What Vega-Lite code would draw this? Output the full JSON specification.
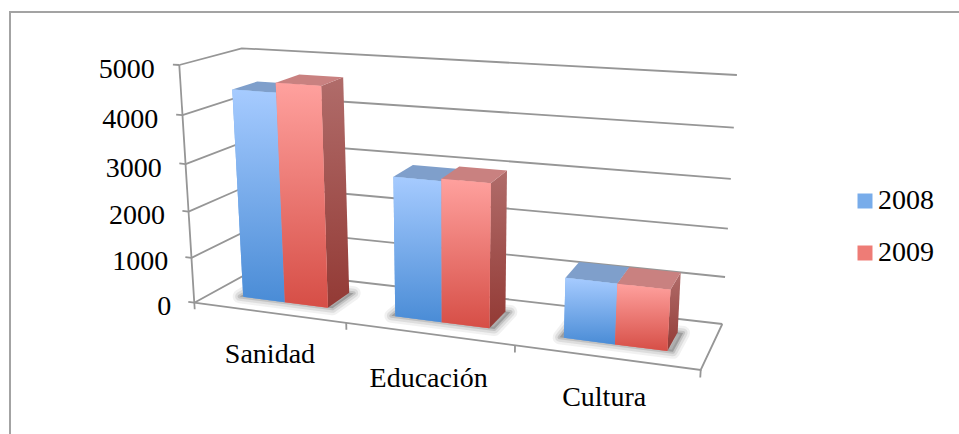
{
  "$schema": "https://vega.github.io/schema/vega-lite/v6.json",
  "width": 952,
  "height": 424,
  "padding": {"left": 10, "top": 12, "right": 0, "bottom": 0},
  "autosize": {"type": "none"},
  "background": "white",
  "config": {"view": {"stroke": "#a3a3a3", "strokeWidth": 2}, "axis": {"disable": true}},
  "data": {"values": [
    {"elemento": "barra", "categoria": "Sanidad", "anio": 2008, "valor": 4450},
    {"elemento": "barra", "categoria": "Sanidad", "anio": 2009, "valor": 4650},
    {"elemento": "barra", "categoria": "Educación", "anio": 2008, "valor": 2950},
    {"elemento": "barra", "categoria": "Educación", "anio": 2009, "valor": 3000},
    {"elemento": "barra", "categoria": "Cultura", "anio": 2008, "valor": 1250},
    {"elemento": "barra", "categoria": "Cultura", "anio": 2009, "valor": 1250},
    {"elemento": "escala", "valor": 0},
    {"elemento": "escala", "valor": 1000},
    {"elemento": "escala", "valor": 2000},
    {"elemento": "escala", "valor": 3000},
    {"elemento": "escala", "valor": 4000},
    {"elemento": "escala", "valor": 5000},
    {"elemento": "categoria", "categoria": "Sanidad"},
    {"elemento": "categoria", "categoria": "Educación"},
    {"elemento": "categoria", "categoria": "Cultura"},
    {"elemento": "suelo"}
  ]},
  "transform": [
    {"calculate": "indexof(['Sanidad','Educación','Cultura'],datum.categoria)", "as": "c"},
    {"calculate": "datum.anio==2009?1:0", "as": "s"},
    {"calculate": "(datum.c+0.5)/3+(datum.s-1)*0.095+0.001", "as": "tL"},
    {"calculate": "datum.tL+0.095", "as": "tR"},
    {"calculate": "datum.valor/5000", "as": "h"},
    {"calculate": "datum.elemento=='barra'?[{cara:'frente',i:0,t:datum.tL,z:0.3,v:0},{cara:'frente',i:1,t:datum.tR,z:0.3,v:0},{cara:'frente',i:2,t:datum.tR,z:0.3,v:datum.h},{cara:'frente',i:3,t:datum.tL,z:0.3,v:datum.h},{cara:'lado',i:0,t:datum.tR,z:0.3,v:0},{cara:'lado',i:1,t:datum.tR,z:0.72,v:0},{cara:'lado',i:2,t:datum.tR,z:0.72,v:datum.h},{cara:'lado',i:3,t:datum.tR,z:0.3,v:datum.h},{cara:'tapa',i:0,t:datum.tL,z:0.3,v:datum.h},{cara:'tapa',i:1,t:datum.tR,z:0.3,v:datum.h},{cara:'tapa',i:2,t:datum.tR,z:0.72,v:datum.h},{cara:'tapa',i:3,t:datum.tL,z:0.72,v:datum.h},{cara:'sombra',i:0,t:datum.tL-0.008,z:0.3,v:0},{cara:'sombra',i:1,t:datum.tL+0.2,z:0.3,v:0},{cara:'sombra',i:2,t:datum.tL+0.2,z:0.72,v:0},{cara:'sombra',i:3,t:datum.tL-0.008,z:0.72,v:0}]:datum.elemento=='escala'?[{cara:'trazo',g:'rejilla',i:0,t:0,z:0,v:datum.h},{cara:'trazo',g:'rejilla',i:1,t:0,z:1,v:datum.h},{cara:'trazo',g:'rejilla',i:2,t:1,z:1,v:datum.h},{cara:'trazo',g:'marca',i:0,t:-0.014,z:0,v:datum.h},{cara:'trazo',g:'marca',i:1,t:0,z:0,v:datum.h},{cara:'etiquetaY',i:0,t:-0.054,z:0,v:datum.h}]:datum.elemento=='categoria'?[{cara:'trazo',g:'marca',i:0,t:datum.c/3,z:0,v:0},{cara:'trazo',g:'marca',i:1,t:datum.c/3,z:0,v:-0.03},{cara:'etiquetaX',i:0,t:(datum.c+0.5)/3,z:0,v:-[0.19,0.195,0.17][datum.c]}]:[{cara:'trazo',g:'borde',i:0,t:0,z:0,v:0},{cara:'trazo',g:'borde',i:1,t:1,z:0,v:0},{cara:'trazo',g:'borde',i:2,t:1,z:1,v:0},{cara:'trazo',g:'eje',i:0,t:0,z:0,v:0},{cara:'trazo',g:'eje',i:1,t:0,z:0,v:1},{cara:'trazo',g:'fin',i:0,t:1,z:0,v:0},{cara:'trazo',g:'fin',i:1,t:1,z:0,v:-0.03}]", "as": "puntos"},
    {"flatten": ["puntos"]},
    {"calculate": "datum.puntos.cara", "as": "cara"},
    {"calculate": "datum.puntos.i", "as": "i"},
    {"calculate": "datum.elemento+'|'+datum.categoria+'|'+datum.anio+'|'+datum.valor+'|'+datum.puntos.g", "as": "grupo"},
    {"calculate": "0.85*datum.puntos.t+0.15*datum.puntos.t*datum.puntos.t", "as": "u"},
    {"calculate": "0.93*datum.puntos.v+0.07*datum.puntos.v*datum.puntos.v", "as": "w"},
    {"calculate": "datum.puntos.z", "as": "z"},
    {"calculate": "(1-datum.w)*((1-datum.z)*((1-datum.u)*194.3+datum.u*700.7)+datum.z*((1-datum.u)*254+datum.u*722.3))+datum.w*((1-datum.z)*((1-datum.u)*179.3+datum.u*716.7)+datum.z*((1-datum.u)*241.7+datum.u*736.9))", "as": "px"},
    {"calculate": "(1-datum.w)*((1-datum.z)*((1-datum.u)*302.7+datum.u*370)+datum.z*((1-datum.u)*270+datum.u*324))+datum.w*((1-datum.z)*((1-datum.u)*65+datum.u*103)+datum.z*((1-datum.u)*48.3+datum.u*75))", "as": "py"}
  ],
  "encoding": {
    "x": {"field": "px", "type": "quantitative", "scale": {"domain": [10, 962], "nice": false, "zero": false}, "axis": null},
    "y": {"field": "py", "type": "quantitative", "scale": {"domain": [436, 12], "nice": false, "zero": false}, "axis": null}
  },
  "layer": [
    {
      "transform": [{"filter": "datum.cara=='trazo'"}],
      "mark": {"type": "line", "stroke": "#969696", "strokeWidth": 1.8},
      "encoding": {"detail": {"field": "grupo"}, "order": {"field": "i"}}
    },
    {
      "transform": [{"filter": "datum.cara=='sombra' && datum.anio==2008"}],
      "mark": {"type": "line", "interpolate": "linear-closed", "stroke": "#777777", "strokeWidth": 14, "strokeOpacity": 0.1, "strokeJoin": "round", "fill": "#777777", "fillOpacity": 0.1},
      "encoding": {"detail": {"field": "grupo"}, "order": {"field": "i"}}
    },
    {
      "transform": [{"filter": "datum.cara=='sombra' && datum.anio==2008"}],
      "mark": {"type": "line", "interpolate": "linear-closed", "stroke": "#777777", "strokeWidth": 9, "strokeOpacity": 0.16, "strokeJoin": "round", "fill": "#777777", "fillOpacity": 0.16},
      "encoding": {"detail": {"field": "grupo"}, "order": {"field": "i"}}
    },
    {
      "transform": [{"filter": "datum.cara=='sombra' && datum.anio==2008"}],
      "mark": {"type": "line", "interpolate": "linear-closed", "stroke": "#666666", "strokeWidth": 4, "strokeOpacity": 0.22, "strokeJoin": "round", "fill": "#666666", "fillOpacity": 0.22},
      "encoding": {"detail": {"field": "grupo"}, "order": {"field": "i"}}
    },
    {
      "transform": [{"filter": "datum.cara=='lado' && datum.anio==2008"}],
      "mark": {"type": "line", "interpolate": "linear-closed", "strokeWidth": 0, "fill": {"gradient": "linear", "x1": 0, "y1": 0, "x2": 0, "y2": 1, "stops": [{"offset": 0, "color": "#7a90b3"}, {"offset": 1, "color": "#3f6a9c"}]}},
      "encoding": {"detail": {"field": "grupo"}, "order": {"field": "i"}}
    },
    {
      "transform": [{"filter": "datum.cara=='lado' && datum.anio==2009"}],
      "mark": {"type": "line", "interpolate": "linear-closed", "strokeWidth": 0, "fill": {"gradient": "linear", "x1": 0, "y1": 0, "x2": 0, "y2": 1, "stops": [{"offset": 0, "color": "#b06c6a"}, {"offset": 1, "color": "#933a35"}]}},
      "encoding": {"detail": {"field": "grupo"}, "order": {"field": "i"}}
    },
    {
      "transform": [{"filter": "datum.cara=='tapa' && datum.anio==2008"}],
      "mark": {"type": "line", "interpolate": "linear-closed", "strokeWidth": 0, "fill": "#7f9fcb"},
      "encoding": {"detail": {"field": "grupo"}, "order": {"field": "i"}}
    },
    {
      "transform": [{"filter": "datum.cara=='tapa' && datum.anio==2009"}],
      "mark": {"type": "line", "interpolate": "linear-closed", "strokeWidth": 0, "fill": "#c98180"},
      "encoding": {"detail": {"field": "grupo"}, "order": {"field": "i"}}
    },
    {
      "transform": [{"filter": "datum.cara=='frente'"}],
      "mark": {"type": "line", "interpolate": "linear-closed", "strokeWidth": 0},
      "encoding": {
        "detail": {"field": "grupo"},
        "order": {"field": "i"},
        "fill": {"field": "anio", "type": "nominal", "title": null,
          "scale": {"domain": [2008, 2009], "range": ["#78acea", "#ee7c76"]},
          "legend": {"orient": "none", "legendX": 841, "legendY": 175, "padding": 0, "symbolType": "square", "symbolSize": 225, "symbolStrokeWidth": 0, "labelFont": "Liberation Serif", "labelFontSize": 28, "labelColor": "#000000", "labelOffset": -1, "rowPadding": 24, "labelBaseline": "middle",
            "encode": {"labels": {"update": {"dy": {"value": 6}}}}
          }
        }
      }
    },
    {
      "transform": [{"filter": "datum.cara=='frente' && datum.anio==2008"}],
      "mark": {"type": "line", "interpolate": "linear-closed", "strokeWidth": 0, "fill": {"gradient": "linear", "x1": 0, "y1": 0, "x2": 0, "y2": 1, "stops": [{"offset": 0, "color": "#a6cbff"}, {"offset": 1, "color": "#4a8cd6"}]}},
      "encoding": {"detail": {"field": "grupo"}, "order": {"field": "i"}}
    },
    {
      "transform": [{"filter": "datum.cara=='frente' && datum.anio==2009"}],
      "mark": {"type": "line", "interpolate": "linear-closed", "strokeWidth": 0, "fill": {"gradient": "linear", "x1": 0, "y1": 0, "x2": 0, "y2": 1, "stops": [{"offset": 0, "color": "#ffa19e"}, {"offset": 1, "color": "#d64e46"}]}},
      "encoding": {"detail": {"field": "grupo"}, "order": {"field": "i"}}
    },
    {
      "transform": [{"filter": "datum.cara=='etiquetaY'"}],
      "mark": {"type": "text", "align": "right", "baseline": "middle", "dy": 7, "font": "Liberation Serif", "fontSize": 28, "color": "#000000"},
      "encoding": {"text": {"field": "valor", "type": "nominal"}}
    },
    {
      "transform": [{"filter": "datum.cara=='etiquetaX'"}],
      "mark": {"type": "text", "align": "center", "baseline": "middle", "font": "Liberation Serif", "fontSize": 28, "color": "#000000"},
      "encoding": {"text": {"field": "categoria", "type": "nominal"}}
    }
  ]
}
